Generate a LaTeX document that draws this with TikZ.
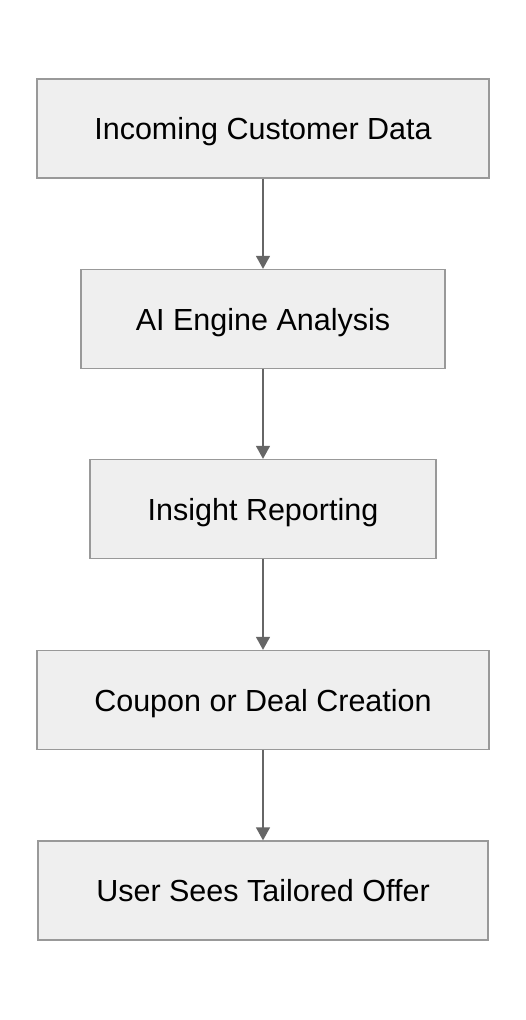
\documentclass[tikz,border=0pt]{standalone}
\usepackage{fontspec}
\setmainfont{Liberation Sans}
\usetikzlibrary{arrows.meta}
\definecolor{boxfill}{HTML}{EFEFEF}
\definecolor{boxline}{HTML}{999999}
\definecolor{arrowc}{HTML}{666666}
\begin{document}
\begin{tikzpicture}[x=1pt,y=-1pt,
  flowbox/.style={draw=boxline,fill=boxfill,line width=1.3pt,minimum height=99pt,inner sep=0pt,text depth=0pt,font=\fontsize{30.5}{34}\selectfont},
  flowarrow/.style={draw=arrowc,line width=1.3pt,-{Triangle[length=13pt,width=14pt]}}]
\useasboundingbox (0,0) rectangle (526,1020);
\node[flowbox,minimum width=452pt] (a) at (263,128.5) {Incoming Customer Data};
\node[flowbox,minimum width=364pt] (b) at (263,319) {AI Engine Analysis};
\node[flowbox,minimum width=346pt] (c) at (263,509) {Insight Reporting};
\node[flowbox,minimum width=452pt] (d) at (263,700) {Coupon or Deal Creation};
\node[flowbox,minimum width=450pt] (e) at (263,890.5) {User Sees Tailored Offer};
\draw[flowarrow] (a) -- (b);
\draw[flowarrow] (b) -- (c);
\draw[flowarrow] (c) -- (d);
\draw[flowarrow] (d) -- (e);
\end{tikzpicture}
\end{document}
